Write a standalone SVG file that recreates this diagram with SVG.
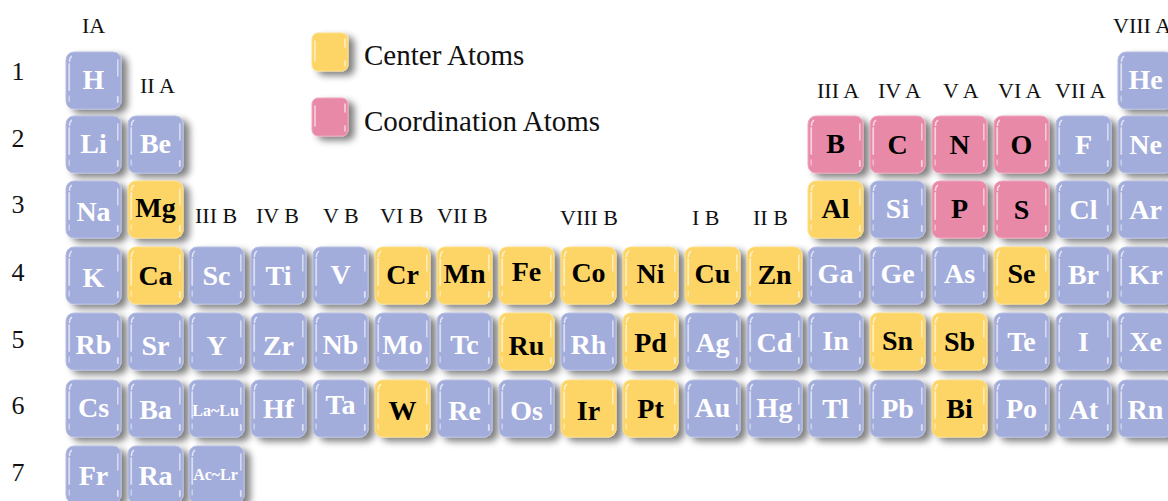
<svg xmlns="http://www.w3.org/2000/svg" xmlns:xlink="http://www.w3.org/1999/xlink" width="1168" height="501" viewBox="0 0 1168 501">
<defs>
<filter id="sh" x="-20%" y="-20%" width="160%" height="160%">
<feGaussianBlur in="SourceAlpha" stdDeviation="3.5"/>
<feOffset dx="6" dy="4" result="b"/>
<feComponentTransfer><feFuncA type="linear" slope="0.5"/></feComponentTransfer>
<feMerge><feMergeNode/><feMergeNode in="SourceGraphic"/></feMerge>
</filter>
<g id="gloss">
<path d="M3.5 10 Q3.2 6 6 4" fill="none" stroke="#fff" stroke-width="1.5" opacity="0.7"/>
<path d="M3.2 12 L3.2 38" fill="none" stroke="#fff" stroke-width="1.8" opacity="0.6" stroke-linecap="round"/>
<path d="M3.2 44 L3.2 49" fill="none" stroke="#fff" stroke-width="1.5" opacity="0.45" stroke-linecap="round"/>
<path d="M51.8 8 L51.8 24" fill="none" stroke="#fff" stroke-width="1.6" opacity="0.55" stroke-linecap="round"/>
<path d="M51.8 45 L51.8 50" fill="none" stroke="#fff" stroke-width="1.8" opacity="0.65" stroke-linecap="round"/>
</g>
<g id="tb"><rect width="55" height="57" rx="8" fill="#a3addb" stroke="#b6bfe4" stroke-width="1" filter="url(#sh)"/><use xlink:href="#gloss"/></g>
<g id="ty"><rect width="55" height="57" rx="8" fill="#fdd466" stroke="#fde08a" stroke-width="1" filter="url(#sh)"/><use xlink:href="#gloss"/></g>
<g id="tp"><rect width="55" height="57" rx="8" fill="#e889a8" stroke="#f0a6be" stroke-width="1" filter="url(#sh)"/><use xlink:href="#gloss"/></g>
<g id="lgy"><rect width="36" height="38" rx="6" fill="#fdd466" stroke="#fde08a" stroke-width="1" filter="url(#sh)"/><path d="M3 8 L3 28 M33 6 L33 14 M33 28 L33 33" fill="none" stroke="#fff" stroke-width="1.5" opacity="0.65" stroke-linecap="round"/></g>
<g id="lgp"><rect width="36" height="38" rx="6" fill="#e889a8" stroke="#f0a6be" stroke-width="1" filter="url(#sh)"/><path d="M3 8 L3 28 M33 6 L33 14 M33 28 L33 33" fill="none" stroke="#fff" stroke-width="1.5" opacity="0.65" stroke-linecap="round"/></g>
</defs>
<style>
text{font-family:'Liberation Serif','Times New Roman',serif}
.w{font-weight:bold;font-size:28px;fill:#ffffff;text-anchor:middle}
.k{font-weight:bold;font-size:28px;fill:#000000;text-anchor:middle}
.s{font-weight:bold;font-size:16px;fill:#ffffff;text-anchor:middle}
.g{font-size:22px;fill:#111111}
.r{font-size:26px;fill:#111111;text-anchor:middle}
.l{font-size:29px;fill:#111111}
</style>
<rect width="1168" height="501" fill="#ffffff"/>

<g id="labels">
<text class="r" x="18" y="80">1</text>
<text class="r" x="18" y="147">2</text>
<text class="r" x="18" y="213">3</text>
<text class="r" x="18" y="281">4</text>
<text class="r" x="18" y="348">5</text>
<text class="r" x="18" y="414">6</text>
<text class="r" x="18" y="481">7</text>
<text class="g" x="82" y="33">IA</text>
<text class="g" x="140" y="93">II A</text>
<text class="g" x="195" y="223">III B</text>
<text class="g" x="256" y="223">IV B</text>
<text class="g" x="323" y="223">V B</text>
<text class="g" x="380" y="223">VI B</text>
<text class="g" x="437" y="223">VII B</text>
<text class="g" x="560" y="225">VIII B</text>
<text class="g" x="692" y="225">I B</text>
<text class="g" x="753" y="225">II B</text>
<text class="g" x="817" y="98">III A</text>
<text class="g" x="878" y="98">IV A</text>
<text class="g" x="943" y="98">V A</text>
<text class="g" x="998" y="98">VI A</text>
<text class="g" x="1055" y="98">VII A</text>
<text class="g" x="1113" y="33">VIII A</text>
</g>

<g id="legend">
<g id="legend-center"><use xlink:href="#lgy" x="312" y="33"/><text class="l" x="364" y="65">Center Atoms</text></g>
<g id="legend-coord"><use xlink:href="#lgp" x="312" y="98"/><text class="l" x="364" y="131">Coordination Atoms</text></g>
</g>

<g id="connectors"></g>

<g id="row1">
<g id="el-H"><use xlink:href="#tb" x="66" y="52"/><text class="w" x="93.5" y="89">H</text></g>
<g id="el-He"><use xlink:href="#tb" x="1118" y="52"/><text class="w" x="1145.5" y="89">He</text></g>
</g>
<g id="row2">
<g id="el-Li"><use xlink:href="#tb" x="66" y="116"/><text class="w" x="93.5" y="153">Li</text></g>
<g id="el-Be"><use xlink:href="#tb" x="128" y="116"/><text class="w" x="155.5" y="153">Be</text></g>
<g id="el-B"><use xlink:href="#tp" x="808" y="116"/><text class="k" x="835.5" y="153">B</text></g>
<g id="el-C"><use xlink:href="#tp" x="870" y="116"/><text class="k" x="897.5" y="154">C</text></g>
<g id="el-N"><use xlink:href="#tp" x="932" y="116"/><text class="k" x="959.5" y="154">N</text></g>
<g id="el-O"><use xlink:href="#tp" x="994" y="116"/><text class="k" x="1021.5" y="154">O</text></g>
<g id="el-F"><use xlink:href="#tb" x="1056" y="116"/><text class="w" x="1083.5" y="154">F</text></g>
<g id="el-Ne"><use xlink:href="#tb" x="1118" y="116"/><text class="w" x="1145.5" y="154">Ne</text></g>
</g>
<g id="row3">
<g id="el-Na"><use xlink:href="#tb" x="66" y="181"/><text class="w" x="93.5" y="221">Na</text></g>
<g id="el-Mg"><use xlink:href="#ty" x="128" y="181"/><text class="k" x="155.5" y="217">Mg</text></g>
<g id="el-Al"><use xlink:href="#ty" x="808" y="181"/><text class="k" x="835.5" y="218">Al</text></g>
<g id="el-Si"><use xlink:href="#tb" x="870" y="181"/><text class="w" x="897.5" y="218">Si</text></g>
<g id="el-P"><use xlink:href="#tp" x="932" y="181"/><text class="k" x="959.5" y="218">P</text></g>
<g id="el-S"><use xlink:href="#tp" x="994" y="181"/><text class="k" x="1021.5" y="219">S</text></g>
<g id="el-Cl"><use xlink:href="#tb" x="1056" y="181"/><text class="w" x="1083.5" y="219">Cl</text></g>
<g id="el-Ar"><use xlink:href="#tb" x="1118" y="181"/><text class="w" x="1145.5" y="219">Ar</text></g>
</g>
<g id="row4">
<g id="el-K"><use xlink:href="#tb" x="66" y="247"/><text class="w" x="93.5" y="287">K</text></g>
<g id="el-Ca"><use xlink:href="#ty" x="128" y="247"/><text class="k" x="155.5" y="285">Ca</text></g>
<g id="el-Sc"><use xlink:href="#tb" x="189" y="247"/><text class="w" x="216.5" y="285">Sc</text></g>
<g id="el-Ti"><use xlink:href="#tb" x="251" y="247"/><text class="w" x="278.5" y="285">Ti</text></g>
<g id="el-V"><use xlink:href="#tb" x="313" y="247"/><text class="w" x="340.5" y="284">V</text></g>
<g id="el-Cr"><use xlink:href="#ty" x="375" y="247"/><text class="k" x="402.5" y="284">Cr</text></g>
<g id="el-Mn"><use xlink:href="#ty" x="437" y="247"/><text class="k" x="464.5" y="283">Mn</text></g>
<g id="el-Fe"><use xlink:href="#ty" x="499" y="247"/><text class="k" x="526.5" y="281">Fe</text></g>
<g id="el-Co"><use xlink:href="#ty" x="561" y="247"/><text class="k" x="588.5" y="282">Co</text></g>
<g id="el-Ni"><use xlink:href="#ty" x="623" y="247"/><text class="k" x="650.5" y="283">Ni</text></g>
<g id="el-Cu"><use xlink:href="#ty" x="685" y="247"/><text class="k" x="712.5" y="283">Cu</text></g>
<g id="el-Zn"><use xlink:href="#ty" x="747" y="247"/><text class="k" x="774.5" y="284">Zn</text></g>
<g id="el-Ga"><use xlink:href="#tb" x="808" y="247"/><text class="w" x="835.5" y="283">Ga</text></g>
<g id="el-Ge"><use xlink:href="#tb" x="870" y="247"/><text class="w" x="897.5" y="283">Ge</text></g>
<g id="el-As"><use xlink:href="#tb" x="932" y="247"/><text class="w" x="959.5" y="283">As</text></g>
<g id="el-Se"><use xlink:href="#ty" x="994" y="247"/><text class="k" x="1021.5" y="283">Se</text></g>
<g id="el-Br"><use xlink:href="#tb" x="1056" y="247"/><text class="w" x="1083.5" y="284">Br</text></g>
<g id="el-Kr"><use xlink:href="#tb" x="1118" y="247"/><text class="w" x="1145.5" y="284">Kr</text></g>
</g>
<g id="row5">
<g id="el-Rb"><use xlink:href="#tb" x="66" y="313"/><text class="w" x="93.5" y="354">Rb</text></g>
<g id="el-Sr"><use xlink:href="#tb" x="128" y="313"/><text class="w" x="155.5" y="355">Sr</text></g>
<g id="el-Y"><use xlink:href="#tb" x="189" y="313"/><text class="w" x="216.5" y="355">Y</text></g>
<g id="el-Zr"><use xlink:href="#tb" x="251" y="313"/><text class="w" x="278.5" y="355">Zr</text></g>
<g id="el-Nb"><use xlink:href="#tb" x="313" y="313"/><text class="w" x="340.5" y="354">Nb</text></g>
<g id="el-Mo"><use xlink:href="#tb" x="375" y="313"/><text class="w" x="402.5" y="354">Mo</text></g>
<g id="el-Tc"><use xlink:href="#tb" x="437" y="313"/><text class="w" x="464.5" y="354">Tc</text></g>
<g id="el-Ru"><use xlink:href="#ty" x="499" y="313"/><text class="k" x="526.5" y="355">Ru</text></g>
<g id="el-Rh"><use xlink:href="#tb" x="561" y="313"/><text class="w" x="588.5" y="354">Rh</text></g>
<g id="el-Pd"><use xlink:href="#ty" x="623" y="313"/><text class="k" x="650.5" y="352">Pd</text></g>
<g id="el-Ag"><use xlink:href="#tb" x="685" y="313"/><text class="w" x="712.5" y="352">Ag</text></g>
<g id="el-Cd"><use xlink:href="#tb" x="747" y="313"/><text class="w" x="774.5" y="352">Cd</text></g>
<g id="el-In"><use xlink:href="#tb" x="808" y="313"/><text class="w" x="835.5" y="350">In</text></g>
<g id="el-Sn"><use xlink:href="#ty" x="870" y="313"/><text class="k" x="897.5" y="350">Sn</text></g>
<g id="el-Sb"><use xlink:href="#ty" x="932" y="313"/><text class="k" x="959.5" y="351">Sb</text></g>
<g id="el-Te"><use xlink:href="#tb" x="994" y="313"/><text class="w" x="1021.5" y="351">Te</text></g>
<g id="el-I"><use xlink:href="#tb" x="1056" y="313"/><text class="w" x="1083.5" y="351">I</text></g>
<g id="el-Xe"><use xlink:href="#tb" x="1118" y="313"/><text class="w" x="1145.5" y="351">Xe</text></g>
</g>
<g id="row6">
<g id="el-Cs"><use xlink:href="#tb" x="66" y="380"/><text class="w" x="93.5" y="417">Cs</text></g>
<g id="el-Ba"><use xlink:href="#tb" x="128" y="380"/><text class="w" x="155.5" y="419">Ba</text></g>
<g id="el-LaLu"><use xlink:href="#tb" x="189" y="380"/><text class="s" x="215.5" y="416">La~Lu</text></g>
<g id="el-Hf"><use xlink:href="#tb" x="251" y="380"/><text class="w" x="278.5" y="418">Hf</text></g>
<g id="el-Ta"><use xlink:href="#tb" x="313" y="380"/><text class="w" x="340.5" y="414">Ta</text></g>
<g id="el-W"><use xlink:href="#ty" x="375" y="380"/><text class="k" x="402.5" y="420">W</text></g>
<g id="el-Re"><use xlink:href="#tb" x="437" y="380"/><text class="w" x="464.5" y="420">Re</text></g>
<g id="el-Os"><use xlink:href="#tb" x="499" y="380"/><text class="w" x="526.5" y="420">Os</text></g>
<g id="el-Ir"><use xlink:href="#ty" x="561" y="380"/><text class="k" x="588.5" y="420">Ir</text></g>
<g id="el-Pt"><use xlink:href="#ty" x="623" y="380"/><text class="k" x="650.5" y="418">Pt</text></g>
<g id="el-Au"><use xlink:href="#tb" x="685" y="380"/><text class="w" x="712.5" y="417">Au</text></g>
<g id="el-Hg"><use xlink:href="#tb" x="747" y="380"/><text class="w" x="774.5" y="417">Hg</text></g>
<g id="el-Tl"><use xlink:href="#tb" x="808" y="380"/><text class="w" x="835.5" y="418">Tl</text></g>
<g id="el-Pb"><use xlink:href="#tb" x="870" y="380"/><text class="w" x="897.5" y="418">Pb</text></g>
<g id="el-Bi"><use xlink:href="#ty" x="932" y="380"/><text class="k" x="959.5" y="418">Bi</text></g>
<g id="el-Po"><use xlink:href="#tb" x="994" y="380"/><text class="w" x="1021.5" y="418">Po</text></g>
<g id="el-At"><use xlink:href="#tb" x="1056" y="380"/><text class="w" x="1083.5" y="419">At</text></g>
<g id="el-Rn"><use xlink:href="#tb" x="1118" y="380"/><text class="w" x="1145.5" y="419">Rn</text></g>
</g>
<g id="row7">
<g id="el-Fr"><use xlink:href="#tb" x="66" y="446"/><text class="w" x="93.5" y="485">Fr</text></g>
<g id="el-Ra"><use xlink:href="#tb" x="128" y="446"/><text class="w" x="155.5" y="485">Ra</text></g>
<g id="el-AcLr"><use xlink:href="#tb" x="189" y="446"/><text class="s" x="215.5" y="480">Ac~Lr</text></g>
</g>
</svg>
